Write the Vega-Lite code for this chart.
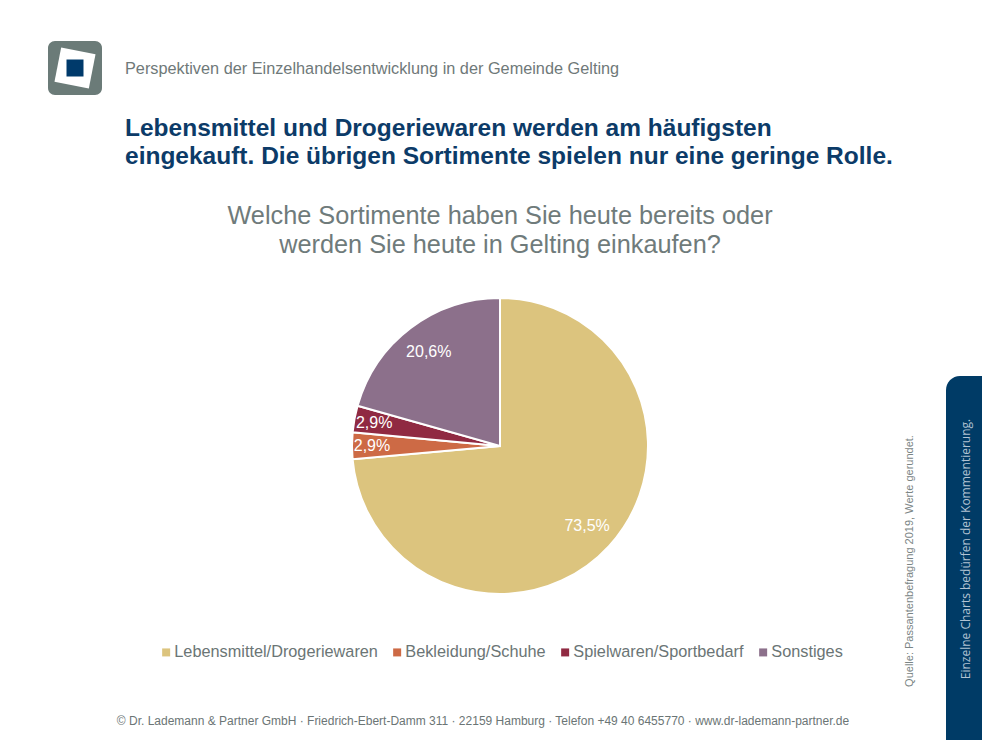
{
  "$schema": "https://vega.github.io/schema/vega-lite/v6.json",
  "background": "#ffffff",
  "padding": {"left": 48, "top": 40, "right": 0, "bottom": 0},
  "config": {
    "font": "Liberation Sans",
    "view": {"stroke": null},
    "legend": {"layout": {"bottom": {"anchor": "middle"}}}
  },
  "datasets": {
    "sortimente": [
      {"Nr": 1, "Sortiment": "Lebensmittel/Drogeriewaren", "Anteil": 73.5, "Label": "73,5%"},
      {"Nr": 2, "Sortiment": "Bekleidung/Schuhe", "Anteil": 2.9, "Label": "2,9%"},
      {"Nr": 3, "Sortiment": "Spielwaren/Sportbedarf", "Anteil": 2.9, "Label": "2,9%"},
      {"Nr": 4, "Sortiment": "Sonstiges", "Anteil": 20.6, "Label": "20,6%"}
    ],
    "leer": [{"t": ""}],
    "fusszeile": [{"t": "© Dr. Lademann & Partner GmbH · Friedrich-Ebert-Damm 311 · 22159 Hamburg · Telefon +49 40 6455770 · www.dr-lademann-partner.de"}],
    "quelle": [{"t": "Quelle:  Passantenbefragung 2019, Werte gerundet."}],
    "hinweis": [{"t": "Einzelne Charts bedürfen der Kommentierung."}]
  },
  "spacing": 35,
  "vconcat": [
    {
      "spacing": 23,
      "hconcat": [
        {
          "width": 54,
          "height": 54,
          "data": {"name": "leer"},
          "layer": [
            {"mark": {"type": "rect", "color": "#6b7b78", "cornerRadius": 7}, "encoding": {}},
            {"mark": {"type": "point", "shape": "square", "filled": true, "opacity": 1, "color": "#ffffff", "size": 1225, "angle": 11}, "encoding": {}},
            {"mark": {"type": "point", "shape": "square", "filled": true, "opacity": 1, "color": "#003a6b", "size": 289}, "encoding": {}}
          ]
        },
        {
          "width": 1,
          "height": 1,
          "data": {"name": "leer"},
          "mark": {"type": "text", "fontSize": 1},
          "encoding": {"text": {"field": "t"}},
          "title": {
            "text": "Perspektiven der Einzelhandelsentwicklung in der Gemeinde Gelting",
            "subtitle": ["Lebensmittel und Drogeriewaren werden am häufigsten", "eingekauft. Die übrigen Sortimente spielen nur eine geringe Rolle."],
            "orient": "bottom",
            "anchor": "start",
            "frame": "group",
            "offset": 19,
            "font": "Liberation Sans",
            "fontSize": 16.3,
            "fontWeight": "normal",
            "color": "#6f7979",
            "subtitleFont": "Liberation Sans",
            "subtitleFontSize": 24.5,
            "subtitleFontWeight": "bold",
            "subtitleColor": "#0c3b68",
            "subtitleLineHeight": 27.6,
            "subtitlePadding": 40
          }
        }
      ]
    },
    {
      "spacing": 11,
      "hconcat": [
        {
          "width": 54,
          "height": 1,
          "data": {"name": "leer"},
          "mark": {"type": "text", "fontSize": 1},
          "encoding": {"text": {"field": "t"}}
        },
        {
          "spacing": 45,
          "resolve": {"scale": {"color": "independent"}, "legend": {"color": "independent"}},
          "vconcat": [
            {
              "width": 774,
              "height": 296,
              "data": {"name": "sortimente"},
              "title": {
                "text": ["Welche Sortimente haben Sie heute bereits oder", "werden Sie heute in Gelting einkaufen?"],
                "anchor": "middle",
                "font": "Liberation Sans",
                "fontSize": 25.3,
                "fontWeight": "normal",
                "color": "#6f7b7b",
                "lineHeight": 28.4,
                "offset": 36
              },
              "encoding": {
                "theta": {"field": "Anteil", "type": "quantitative", "stack": true},
                "order": {"field": "Nr", "type": "quantitative", "sort": "ascending"},
                "color": {
                  "field": "Sortiment",
                  "type": "nominal",
                  "sort": ["Lebensmittel/Drogeriewaren", "Bekleidung/Schuhe", "Spielwaren/Sportbedarf", "Sonstiges"],
                  "scale": {
                    "domain": ["Lebensmittel/Drogeriewaren", "Bekleidung/Schuhe", "Spielwaren/Sportbedarf", "Sonstiges"],
                    "range": ["#dcc47e", "#cd6a45", "#902a42", "#8c708b"]
                  },
                  "legend": {
                    "orient": "bottom",
                    "direction": "horizontal",
                    "title": null,
                    "offset": 50,
                    "padding": 0,
                    "symbolType": "square",
                    "symbolSize": 64,
                    "symbolStrokeWidth": 0,
                    "symbolOpacity": 1,
                    "labelFont": "Liberation Sans",
                    "labelFontSize": 16.3,
                    "labelColor": "#6b7575",
                    "labelLimit": 400,
                    "labelOffset": 0,
                    "columnPadding": 11
                  }
                }
              },
              "layer": [
                {"mark": {"type": "arc", "outerRadius": 148, "stroke": "#ffffff", "strokeWidth": 2}},
                {
                  "mark": {"type": "text", "radius": 118, "font": "Liberation Sans", "fontSize": 16},
                  "encoding": {
                    "fill": {"value": "#ffffff"},
                    "text": {"condition": {"test": "datum.Anteil > 10", "field": "Label"}, "value": ""}
                  }
                },
                {
                  "mark": {"type": "text", "radius": 128, "font": "Liberation Sans", "fontSize": 16},
                  "encoding": {
                    "fill": {"value": "#ffffff"},
                    "text": {"condition": {"test": "datum.Anteil <= 10", "field": "Label"}, "value": ""}
                  }
                }
              ]
            },
            {
              "width": 774,
              "height": 30,
              "data": {"name": "fusszeile"},
              "mark": {"type": "text", "font": "Liberation Sans", "fontSize": 12, "color": "#6b7575", "dx": -17},
              "encoding": {"text": {"field": "t"}}
            }
          ]
        },
        {
          "spacing": 0,
          "vconcat": [
            {
              "width": 1,
              "height": 78,
              "data": {"name": "leer"},
              "mark": {"type": "text", "fontSize": 1},
              "encoding": {"text": {"field": "t"}}
            },
            {
              "spacing": 24,
              "hconcat": [
                {
                  "width": 24,
                  "height": 364,
                  "data": {"name": "quelle"},
                  "mark": {"type": "text", "angle": 270, "font": "Liberation Sans", "fontSize": 11, "color": "#7b8585", "dx": -3},
                  "encoding": {"text": {"field": "t"}}
                },
                {
                  "width": 36,
                  "height": 364,
                  "data": {"name": "hinweis"},
                  "layer": [
                    {"mark": {"type": "rect", "color": "#003b66", "cornerRadiusTopLeft": 14}, "encoding": {}},
                    {
                      "mark": {"type": "text", "angle": 270, "font": "Open Sans", "fontSize": 12, "letterSpacing": 0.4, "color": "#b3c3d3", "dx": 9, "dy": 2},
                      "encoding": {"text": {"field": "t"}}
                    }
                  ]
                }
              ]
            }
          ]
        }
      ]
    }
  ]
}
